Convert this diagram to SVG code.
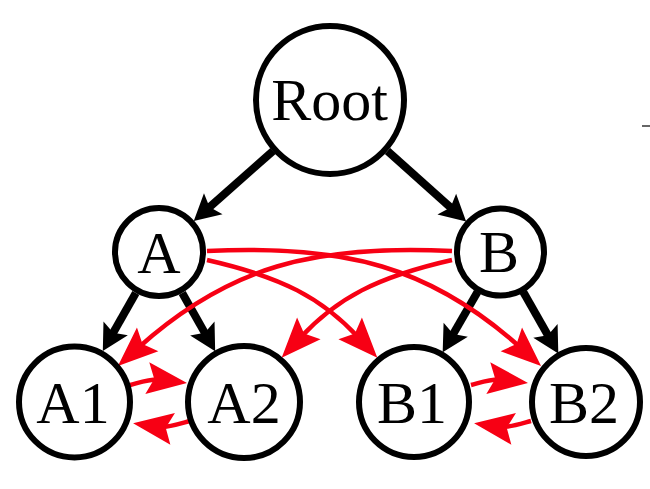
<svg xmlns="http://www.w3.org/2000/svg" width="650" height="489" viewBox="0 0 650 489">
<style>
.node circle{fill:#fff;stroke:#000;stroke-width:6}
.node text{font-family:"Liberation Serif","Times New Roman",serif;font-size:60px;text-anchor:middle;fill:#000}
.tree{fill:none;stroke:#000;stroke-width:8;marker-end:url(#hb)}
.link{fill:none;stroke:#f70014;stroke-width:4.5;marker-end:url(#hr)}
</style>
<defs>
<marker id="hb" markerUnits="userSpaceOnUse" orient="auto" refX="0" refY="0" markerWidth="10" markerHeight="10" overflow="visible">
<path d="M19,0 L-7,-14 L-2,0 L-7,14 Z" fill="#000"/>
</marker>
<marker id="hr" markerUnits="userSpaceOnUse" orient="auto" refX="0" refY="0" markerWidth="10" markerHeight="10" overflow="visible">
<path d="M27,0 L-13,-16 L-6,0 L-13,16 Z" fill="#f70014"/>
</marker>
</defs>
<rect width="650" height="489" fill="#fff"/>
<line x1="642" y1="126" x2="650" y2="126" stroke="#333" stroke-width="1.5"/>
<g id="connectors">
<path class="tree" d="M273,151 L208,208.4"/>
<path class="tree" d="M387.5,151 L452,208.8"/>
<path class="tree" d="M135.8,293 L112.2,334.5"/>
<path class="tree" d="M182.2,293 L205.8,334.6"/>
<path class="tree" d="M477.5,292 L452.2,335.7"/>
<path class="tree" d="M523.3,292 L548.9,336.9"/>
<path class="link" d="M207,251 C345,244 431,267 521,348"/>
<path class="link" d="M207,260 C282,277 322,298 359,338"/>
<path class="link" d="M452,251 C314,244 228,267 138,348"/>
<path class="link" d="M452,260 C377,277 337,298 300,338"/>
<path class="link" d="M130,385 C141.6,382 151.3,378.6 160.2,379.7"/>
<path class="link" d="M190,421 C180.3,423.6 166.7,428 159.8,427"/>
<path class="link" d="M471,385 C482.6,382 492.3,378.6 501.2,379.7"/>
<path class="link" d="M531,421 C521.3,423.6 507.7,428 500.8,427"/>
</g>
<g id="Root" class="node"><circle cx="330" cy="100" r="74"/><text x="329.5" y="120">Root</text></g>
<g id="A" class="node"><circle cx="159" cy="252" r="44"/><text x="159" y="273">A</text></g>
<g id="B" class="node"><circle cx="500.5" cy="252" r="43.5"/><text x="499" y="272">B</text></g>
<g id="A1" class="node"><circle cx="74.5" cy="402" r="55.5"/><text x="73" y="423">A1</text></g>
<g id="A2" class="node"><circle cx="244" cy="402" r="56"/><text x="244" y="423">A2</text></g>
<g id="B1" class="node"><circle cx="414" cy="402" r="55"/><text x="412" y="423">B1</text></g>
<g id="B2" class="node"><circle cx="586" cy="402" r="54"/><text x="584" y="423">B2</text></g>
</svg>
